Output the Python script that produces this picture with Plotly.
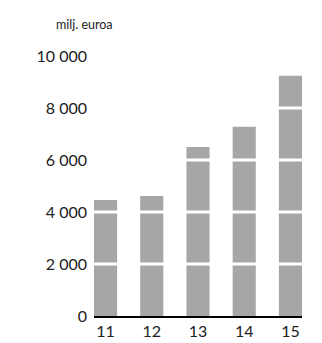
import plotly.graph_objects as go

# Data
years = ["11", "12", "13", "14", "15"]
values = [4460, 4620, 6500, 7280, 9240]
tick_vals = [0, 2000, 4000, 6000, 8000, 10000]
tick_text = ["0", "2 000", "4 000", "6 000", "8 000", "10 000"]

FONT = "Lato"

fig = go.Figure(go.Bar(
    x=years,
    y=values,
    marker=dict(color="#a6a6a6", line=dict(width=0)),
    width=0.5,
))

# white grid lines drawn over the bars
for v in tick_vals[1:-1]:
    fig.add_shape(type="line", xref="paper", yref="y",
                  x0=0, x1=1, y0=v, y1=v,
                  line=dict(color="white", width=3), layer="above")

fig.add_annotation(text="milj. euroa", xref="paper", yref="paper",
                   x=-0.08, y=1.0, xshift=7, yshift=32,
                   xanchor="center", yanchor="middle",
                   showarrow=False, font=dict(family=FONT, size=12.5, color="#222"))

# page body has an 8px margin, so the figure is a bit smaller than the window
fig.update_layout(
    template="none",
    width=314, height=335,
    margin=dict(l=86, r=20, t=48, b=27),
    paper_bgcolor="white", plot_bgcolor="white",
    showlegend=False,
    font=dict(family=FONT, size=16, color="#222"),
    xaxis=dict(
        type="category",
        range=[-0.25, 4.25], showgrid=False, zeroline=False,
        showline=True, linecolor="black", linewidth=2,
        ticks="", automargin=False, tickfont=dict(size=16),
    ),
    yaxis=dict(
        range=[0, 10000], tickvals=tick_vals, ticktext=tick_text,
        showgrid=False, zeroline=False, showline=False,
        ticks="", ticklabelstandoff=6, automargin=False,
        tickfont=dict(size=16),
    ),
)

fig.write_html("out.html")
